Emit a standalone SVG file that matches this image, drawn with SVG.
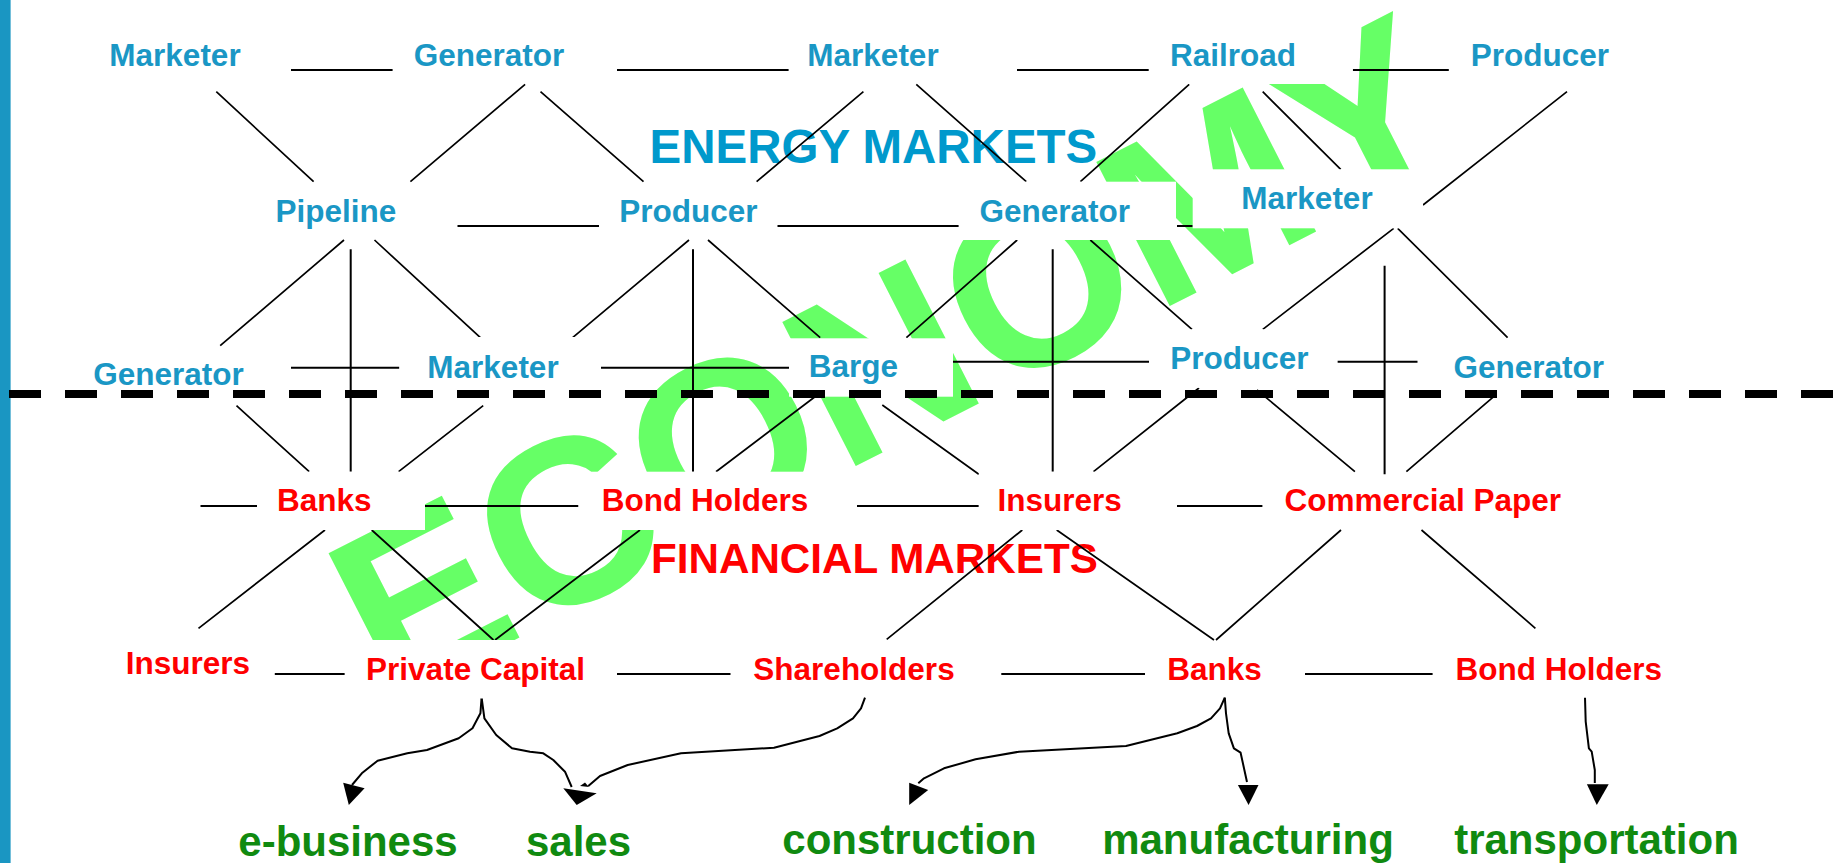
<svg xmlns="http://www.w3.org/2000/svg" width="1842" height="863" viewBox="0 0 1842 863">
  <style>
    .lbl { font-family: "Liberation Sans", Arial, sans-serif; font-weight: bold; font-size: 31.5px; text-anchor: middle; }
    .energy { fill: #1a97c5; }
    .fin { fill: #ff0000; }
    .sector { font-family: "Liberation Sans", Arial, sans-serif; font-weight: bold; font-size: 42px; text-anchor: middle; fill: #108a10; }
    .box { fill: #ffffff; }
    .ln { stroke: #000; stroke-width: 2; fill: none; }
    .dg { stroke: #000; stroke-width: 1.7; fill: none; }
    .arr { stroke: #000; stroke-width: 2; fill: none; stroke-linejoin: round; }
    .head { fill: #000; }
  </style>

  <rect width="1842" height="863" fill="#ffffff"/>
  <!-- left accent bar -->
  <rect x="0" y="0" width="10.6" height="863" fill="#1a96c2"/>

  <!-- background watermark word -->
  <text id="economy" transform="translate(388,704.5) rotate(-27)" font-family="Liberation Sans, Arial, sans-serif" font-weight="bold" font-size="235" fill="#66ff66">ECONOMY</text>

  <!-- section titles -->
  <text x="873.4" y="163.3" font-family="Liberation Sans, Arial, sans-serif" font-weight="bold" font-size="47.5" text-anchor="middle" fill="#0099cc">ENERGY MARKETS</text>
  <text x="874.4" y="573.3" font-family="Liberation Sans, Arial, sans-serif" font-weight="bold" font-size="42.2" text-anchor="middle" fill="#ff0000">FINANCIAL MARKETS</text>

  <g id="connectors">
    <!-- row 1 -->
    <path class="ln" d="M291,70H392.6 M617,70H788.6 M1017,70H1148.7 M1352.8,70H1448.8"/>
    <path class="dg" d="M216.3,91.7L313.6,181.7 M525.1,84.3L410.4,181.7 M540.5,91.7L643.5,181.7 M863.4,91.7L756.6,181.7 M916.3,84.3L1026.3,181.7 M1189.2,84.3L1080.4,181.7 M1262.7,91.7L1340.7,169.3 M1567,91.7L1423,205"/>
    <!-- row 2 -->
    <path class="ln" d="M457.5,226H599 M777.5,226H958.6 M1177,226H1192.7"/>
    <path class="ln" d="M350.7,249.3V471.7 M693,249.3V471.7 M1052.7,249.3V471.7 M1384.6,265.7V474.3"/>
    <path class="dg" d="M344,240L220.2,345.7 M374.5,240L480.4,337.7 M689,240L572.6,337.7 M708,240L820.2,337.7 M1017.2,240L906.4,337.7 M1090.3,240L1192,329.3 M1393.7,228.3L1262.8,329.3 M1397.7,228.3L1507.6,337.7"/>
    <!-- row 3 -->
    <path class="ln" d="M291,367.7H399.4 M601,367.7H789 M952,361.7H1149 M1337.4,361.7H1417.5"/>
    <path class="dg" d="M236.5,405.7L309.2,471.7 M483.2,405.7L398.6,471.7 M815,396.7L716,471.7 M882.3,405L978.8,474.3 M1199,388L1093.5,471.7 M1257,390L1354.9,471.7 M1493.7,396.7L1406.4,471.7"/>
    <!-- row 4 -->
    <path class="ln" d="M200.5,506H257 M425,506H578.5 M857,506H978.8 M1177,506H1262.4"/>
    <path class="dg" d="M325,530L198.5,628.3 M371.7,530L493.5,640 M640,530L495,640 M1022.3,530L886.7,639.3 M1056.7,530L1214,640 M1341,530L1216,640 M1421.5,530L1535.4,628.3"/>
    <!-- row 5 -->
    <path class="ln" d="M274.8,674H344.8 M617,674H730.5 M1001.3,674H1145 M1305,674H1432.6"/>
    <!-- flows into the economy sectors -->
    <path class="arr" d="M481.6,697.7L480.4,713.3L472.5,728.3L458.7,738.3L427,750L407.3,753.3L377.6,760.7L361.8,773.3L352,785"/>
    <polygon class="head" points="343.2,782.7 364.6,788.3 348.8,805"/>
    <path class="arr" d="M481.6,697.7L484.4,718.3L496.2,735L512,748.3L530,751.7L543.3,753.3L553.3,760L565,771.7L571.7,787"/>
    <polygon class="head" points="563.3,788.3 596.7,793.3 576.7,805"/>
    <path class="arr" d="M865,697.7L861,708.3L853,718.3L837.2,728.3L819.5,736L774,747.7L681,753.3L627.7,765L600,776L588.3,786"/>
    <polygon class="head" points="580,786 585,782.5 589,787"/>
    <path class="arr" d="M1224.8,697.7L1220,708.3L1211,718.3L1197,726L1177.3,733.3L1126,746L1019,751.7L975.6,759.3L944,768.3L924,778.3L918.3,783.3"/>
    <polygon class="head" points="909.2,782.7 928.2,790 909.2,805"/>
    <path class="arr" d="M1224.8,697.7L1226,713.3L1228.7,733.3L1233.9,748.3L1240.6,752.7L1247,782"/>
    <polygon class="head" points="1237.9,785 1258.5,785 1248.6,805"/>
    <path class="arr" d="M1585,697.7L1585.7,721.7L1588.9,748.3L1591.7,751.7L1594.8,770L1594.8,783"/>
    <polygon class="head" points="1586.9,784.3 1608.7,784.3 1596.8,805"/>
  </g>

  <!-- energy market nodes -->
  <g id="e-marketer-1"><text class="lbl energy" x="175" y="66">Marketer</text></g>
  <g id="e-generator-1"><text class="lbl energy" x="489" y="66">Generator</text></g>
  <g id="e-marketer-2"><text class="lbl energy" x="873" y="66">Marketer</text></g>
  <g id="e-railroad"><rect class="box" x="1150" y="26" width="202.7" height="58"/><text class="lbl energy" x="1233" y="66">Railroad</text></g>
  <g id="e-producer-1"><text class="lbl energy" x="1540" y="66">Producer</text></g>

  <g id="e-pipeline"><text class="lbl energy" x="336" y="221.7">Pipeline</text></g>
  <g id="e-producer-2"><text class="lbl energy" x="688.4" y="221.7">Producer</text></g>
  <g id="e-generator-2"><rect class="box" x="960" y="181.7" width="216" height="58.3"/><text class="lbl energy" x="1054.7" y="221.7">Generator</text></g>
  <g id="e-marketer-3"><rect class="box" x="1192.7" y="169.3" width="230.3" height="59"/><text class="lbl energy" x="1307" y="209.3">Marketer</text></g>

  <g id="e-generator-3"><text class="lbl energy" x="168.6" y="385">Generator</text></g>
  <g id="e-marketer-4"><rect class="box" x="399.4" y="337" width="201.6" height="58.5"/><text class="lbl energy" x="493" y="377.5">Marketer</text></g>
  <g id="e-barge"><rect class="box" x="789" y="338.3" width="164" height="58.4"/><text class="lbl energy" x="853.3" y="377.3">Barge</text></g>
  <g id="e-producer-3"><rect class="box" x="1149" y="329.3" width="188.4" height="58.5"/><text class="lbl energy" x="1239.5" y="369.3">Producer</text></g>
  <g id="e-generator-4"><text class="lbl energy" x="1528.8" y="377.5">Generator</text></g>

  <!-- financial market nodes -->
  <g id="f-banks-1"><rect class="box" x="257" y="471.7" width="168" height="58.3"/><text class="lbl fin" x="324.2" y="511">Banks</text></g>
  <g id="f-bondholders-1"><rect class="box" x="578.5" y="471.7" width="278.5" height="58.3"/><text class="lbl fin" x="705" y="511">Bond Holders</text></g>
  <g id="f-insurers-1"><rect class="box" x="978.8" y="471.7" width="198.2" height="58.3"/><text class="lbl fin" x="1059.7" y="511">Insurers</text></g>
  <g id="f-commercial-paper"><text class="lbl fin" x="1422.8" y="511">Commercial Paper</text></g>

  <g id="f-insurers-2"><text class="lbl fin" x="187.9" y="674">Insurers</text></g>
  <g id="f-private-capital"><rect class="box" x="344.8" y="640" width="272.2" height="58.5"/><text class="lbl fin" x="475.5" y="680">Private Capital</text></g>
  <g id="f-shareholders"><text class="lbl fin" x="854" y="680">Shareholders</text></g>
  <g id="f-banks-2"><text class="lbl fin" x="1214.6" y="680">Banks</text></g>
  <g id="f-bondholders-2"><text class="lbl fin" x="1558.8" y="680">Bond Holders</text></g>

  <!-- economy sectors -->
  <g id="s-ebusiness"><text class="sector" x="348" y="856">e-business</text></g>
  <g id="s-sales"><text class="sector" x="578.5" y="856">sales</text></g>
  <g id="s-construction"><text class="sector" x="909.5" y="853.5">construction</text></g>
  <g id="s-manufacturing"><text class="sector" x="1248" y="853.5">manufacturing</text></g>
  <g id="s-transportation"><text class="sector" x="1596.5" y="853.5">transportation</text></g>

  <!-- boundary between energy and financial markets -->
  <line x1="9" y1="394" x2="1842" y2="394" stroke="#000" stroke-width="8" stroke-dasharray="32 24"/>
</svg>
